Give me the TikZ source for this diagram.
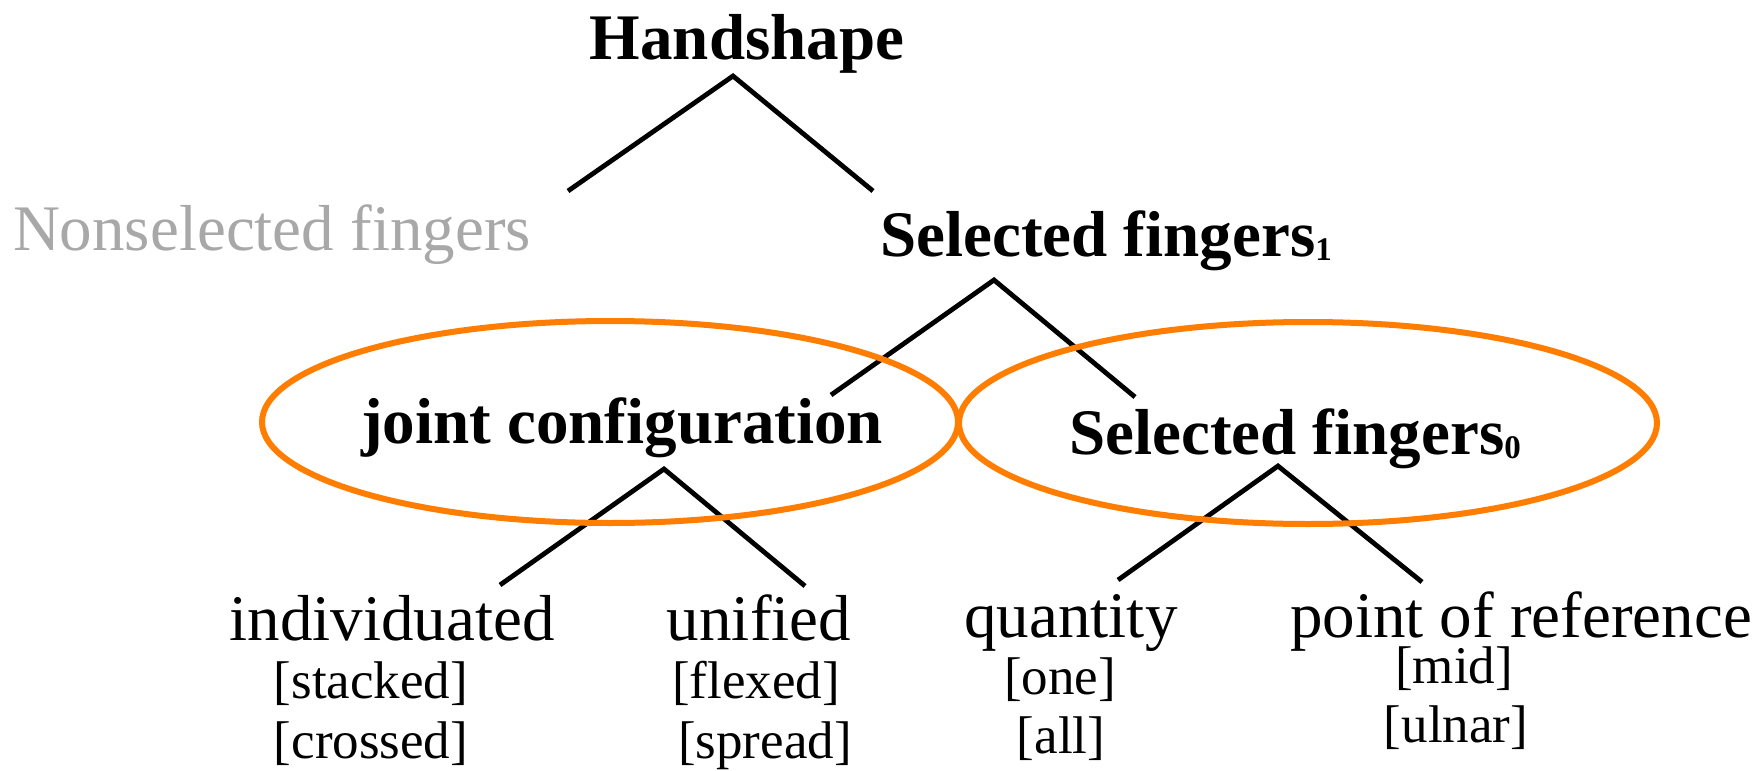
\documentclass[tikz,border=0pt]{standalone}
\usepackage{fontspec}
\setmainfont{Liberation Serif}
\usetikzlibrary{calc}
\definecolor{ringorange}{RGB}{255,125,0}
\definecolor{dimgray}{RGB}{168,168,168}
\newcommand{\lowdigit}[1]{\raisebox{-2pt}{\fontsize{16.5}{17}\selectfont\bfseries #1}}
\begin{document}
\begin{tikzpicture}[x=0.5pt,y=-0.5pt,
  label/.style={inner sep=0pt,anchor=base,font=\fontsize{32.5}{39}\selectfont},
  head/.style={label,font=\fontsize{32.5}{39}\selectfont\bfseries},
  feature/.style={inner sep=0pt,anchor=base,font=\fontsize{26.5}{32}\selectfont},
  branch/.style={line width=2.4pt,line cap=butt,line join=miter},
  ring/.style={draw=ringorange,line width=3pt}]
\useasboundingbox (0,0) rectangle (1763,771);

% tree labels
\node[head] (hs) at (747,59) {Handshape};
\node[label,text=dimgray] (nsf) at (272,250) {Nonselected fingers};
\node[head] (sf1) at (1106,256) {Selected fingers\lowdigit{1}};
\node[head] (jc) at (622,443) {joint configuration};
\node[head] (sf0) at (1295,454) {Selected fingers\lowdigit{0}};

\node[label] (ind) at (392,640) {individuated};
\node[feature] (stk) at (371,698) {[stacked]};
\node[feature] (crs) at (371,758) {[crossed]};

\node[label] (uni) at (759,640) {unified};
\node[feature] (flx) at (756,698) {[flexed]};
\node[feature] (spr) at (765,758) {[spread]};

\node[label] (qty) at (1071,637) {quantity};
\node[feature] (one) at (1060,694) {[one]};
\node[feature] (all) at (1061,753) {[all]};

\node[label] (por) at (1521,637) {point of reference};
\node[feature] (mid) at (1454,683) {[mid]};
\node[feature] (uln) at (1456,742) {[ulnar]};

% branch points
\coordinate (hs-top) at (733,76);
\coordinate (hs-l) at (568,191);
\coordinate (hs-r) at (873,191);
\coordinate (sf1-top) at (994,280);
\coordinate (sf1-l) at (831,395);
\coordinate (sf1-r) at (1135,397);
\coordinate (jc-top) at (664,469);
\coordinate (jc-l) at (500,585);
\coordinate (jc-r) at (805,586);
\coordinate (sf0-top) at (1278,466);
\coordinate (sf0-l) at (1118,580);
\coordinate (sf0-r) at (1422,582);

% branches
\draw[branch] (hs-l) -- (hs-top) -- (hs-r);
\draw[branch] (sf1-l) -- (sf1-top) -- (sf1-r);
\draw[branch] (jc-l) -- (jc-top) -- (jc-r);
\draw[branch] (sf0-l) -- (sf0-top) -- (sf0-r);

% highlighted constituents
\draw[ring] (610,422) ellipse [x radius=348, y radius=101];
\draw[ring] (1308,423) ellipse [x radius=349, y radius=101];
\end{tikzpicture}
\end{document}
